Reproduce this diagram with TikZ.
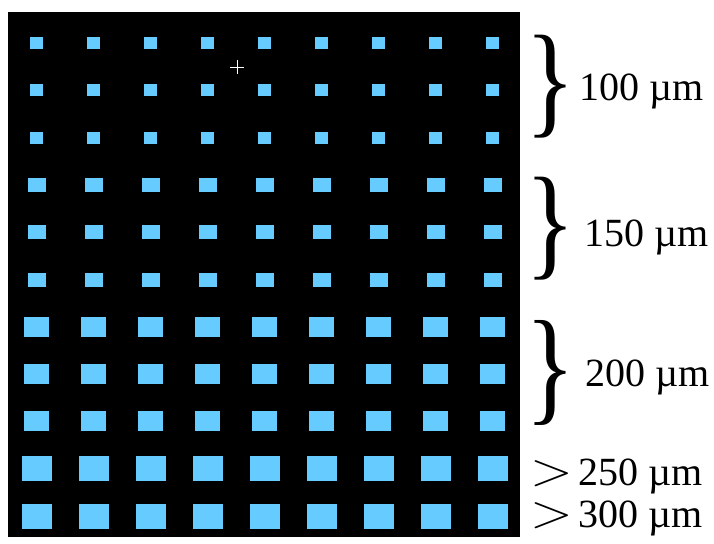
\documentclass[tikz,border=0pt]{standalone}
\usepackage{fontspec}
\setmainfont{Liberation Serif}
\usetikzlibrary{positioning}
\definecolor{padblue}{HTML}{66CCFF}

\begin{document}
\begin{tikzpicture}[x=1pt,y=-1pt,font=\fontsize{40}{48}\selectfont,
  label/.style={anchor=base west,inner sep=0pt,text height=28pt,text depth=9pt},
  bracket/.style={inner sep=0pt}]
\useasboundingbox (0,0) rectangle (714,543);

% --- Fondo nero
\fill[black] (8,12) rectangle (520,537);

% --- Pad: y centro / larghezza / altezza di ogni riga
\foreach \yc/\w/\h in {43/13/12, 90.3/13/12, 137.6/13/12,
                       184.9/18/14, 232.2/18/14, 279.5/18/14,
                       326.8/25/20, 374.1/25/20, 421.4/25/20,
                       468.7/30/25, 516/30/25}{
  \foreach \j in {0,...,8}{
    \pgfmathsetmacro{\xc}{36.7+57*\j}
    \fill[padblue] (\xc-\w/2,\yc-\h/2) rectangle (\xc+\w/2,\yc+\h/2);
  }
}

% --- Mirino
\draw[white,line width=0.8pt] (230,67) -- (244,67);
\draw[white,line width=0.8pt] (237,60) -- (237,74);

% --- Graffe
\newcommand{\graffa}[1]{\resizebox*{50pt}{#1}{\}}}
\node[bracket] (br100) at (550,86.5) {\graffa{103pt}};
\node[bracket] (br150) at (550,228.5) {\graffa{103pt}};
\node[bracket] (br200) at (550,372.5) {\graffa{105pt}};

% --- Etichette
\newcommand{\magg}{\makebox[48pt][l]{\scalebox{2.25}[1.9]{$>$}}}
\node[label] (lbl100) at (579,100) {100 µm};
\node[label] (lbl150) at (584,246) {150 µm};
\node[label] (lbl200) at (585,386) {200 µm};
\node[label] (lbl250) at (530,485) {\magg250 µm};
\node[label] (lbl300) at (530,527) {\magg300 µm};

\end{tikzpicture}
\end{document}
